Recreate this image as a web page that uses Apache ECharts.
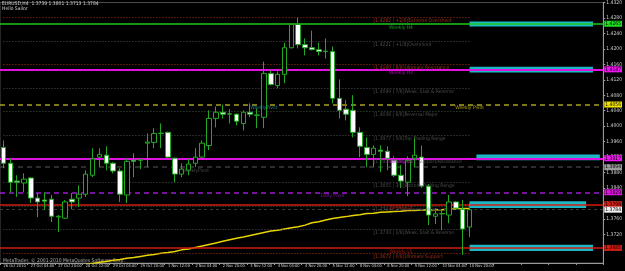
<!DOCTYPE html>
<html>
<head>
<meta charset="utf-8">
<script src="https://cdn.jsdelivr.net/npm/echarts@6/dist/echarts.min.js"></script>
<style>
html, body { margin: 0; padding: 0; background: #000; }
#main { width: 625px; height: 271px; }
</style>
</head>
<body>
<div id="main"></div>
<script>
// EURUSD H4 bars, 26 Oct 2010 12:00 .. 10 Nov 2010 20:00
const times = [
  '26 Oct 2010', '26 Oct 16:00', '26 Oct 20:00',
  '27 Oct 00:00', '27 Oct 04:00', '27 Oct 08:00', '27 Oct 12:00', '27 Oct 16:00', '27 Oct 20:00',
  '28 Oct 00:00', '28 Oct 04:00', '28 Oct 08:00', '28 Oct 12:00', '28 Oct 16:00', '28 Oct 20:00',
  '29 Oct 00:00', '29 Oct 04:00', '29 Oct 08:00', '29 Oct 12:00', '29 Oct 16:00', '29 Oct 20:00',
  '1 Nov 00:00', '1 Nov 04:00', '1 Nov 08:00', '1 Nov 12:00', '1 Nov 16:00', '1 Nov 20:00',
  '2 Nov 00:00', '2 Nov 04:00', '2 Nov 08:00', '2 Nov 12:00', '2 Nov 16:00', '2 Nov 20:00',
  '3 Nov 00:00', '3 Nov 04:00', '3 Nov 08:00', '3 Nov 12:00', '3 Nov 16:00', '3 Nov 20:00',
  '4 Nov 00:00', '4 Nov 04:00', '4 Nov 08:00', '4 Nov 12:00', '4 Nov 16:00', '4 Nov 20:00',
  '5 Nov 00:00', '5 Nov 04:00', '5 Nov 08:00', '5 Nov 12:00', '5 Nov 16:00', '5 Nov 20:00',
  '8 Nov 00:00', '8 Nov 04:00', '8 Nov 08:00', '8 Nov 12:00', '8 Nov 16:00', '8 Nov 20:00',
  '9 Nov 00:00', '9 Nov 04:00', '9 Nov 08:00', '9 Nov 12:00', '9 Nov 16:00', '9 Nov 20:00',
  '10 Nov 00:00', '10 Nov 04:00', '10 Nov 08:00', '10 Nov 12:00', '10 Nov 16:00', '10 Nov 20:00'
];
const futureSlots = 19;

// [open, close, low, high]
const ohlc = [
  [1.3945, 1.3904, 1.3891, 1.3963], [1.3904, 1.3855, 1.3829, 1.3917], [1.3858, 1.3855, 1.3817, 1.3873],
  [1.3853, 1.3863, 1.3829, 1.3878], [1.3866, 1.3814, 1.3801, 1.3868], [1.3814, 1.3804, 1.3765, 1.3827],
  [1.3809, 1.3806, 1.3783, 1.3829], [1.3811, 1.3767, 1.3752, 1.3822], [1.3765, 1.3767, 1.3726, 1.3770],
  [1.3762, 1.3804, 1.3760, 1.3809], [1.3811, 1.3804, 1.3785, 1.3827], [1.3814, 1.3824, 1.3791, 1.3847],
  [1.3824, 1.3876, 1.3817, 1.3886], [1.3873, 1.3915, 1.3868, 1.3943], [1.3920, 1.3927, 1.3894, 1.3943],
  [1.3925, 1.3904, 1.3886, 1.3948], [1.3904, 1.3884, 1.3878, 1.3907], [1.3884, 1.3824, 1.3804, 1.3891],
  [1.3822, 1.3909, 1.3801, 1.3915], [1.3912, 1.3909, 1.3868, 1.3930], [1.3912, 1.3913, 1.3889, 1.3915],
  [1.3956, 1.3959, 1.3894, 1.3981], [1.3958, 1.3981, 1.3943, 1.3995], [1.3981, 1.3982, 1.3943, 1.4007],
  [1.3984, 1.3920, 1.3918, 1.3986], [1.3917, 1.3876, 1.3855, 1.3919], [1.3876, 1.3889, 1.3868, 1.3904],
  [1.3886, 1.3902, 1.3873, 1.3915], [1.3904, 1.3920, 1.3894, 1.3943], [1.3920, 1.3956, 1.3917, 1.3963],
  [1.3950, 1.4020, 1.3938, 1.4041], [1.4020, 1.4036, 1.3997, 1.4051], [1.4036, 1.4031, 1.4020, 1.4056],
  [1.4031, 1.4032, 1.4007, 1.4044], [1.4031, 1.4013, 1.4002, 1.4033], [1.4007, 1.4036, 1.3989, 1.4041],
  [1.4036, 1.4031, 1.4023, 1.4059], [1.4028, 1.4029, 1.3995, 1.4046], [1.4023, 1.4136, 1.3995, 1.4167],
  [1.4136, 1.4108, 1.4105, 1.4144], [1.4105, 1.4134, 1.4098, 1.4142], [1.4134, 1.4203, 1.4111, 1.4216],
  [1.4203, 1.4263, 1.4201, 1.4265], [1.4263, 1.4211, 1.4201, 1.4281], [1.4211, 1.4203, 1.4183, 1.4227],
  [1.4203, 1.4198, 1.4196, 1.4247], [1.4198, 1.4193, 1.4183, 1.4216], [1.4193, 1.4194, 1.4175, 1.4227],
  [1.4193, 1.4072, 1.4059, 1.4206], [1.4072, 1.4041, 1.4020, 1.4121], [1.4044, 1.4031, 1.4015, 1.4067],
  [1.4041, 1.3984, 1.3971, 1.4080], [1.3984, 1.3948, 1.3920, 1.3997], [1.3945, 1.3927, 1.3894, 1.3971],
  [1.3927, 1.3943, 1.3894, 1.3950], [1.3938, 1.3935, 1.3881, 1.3950], [1.3935, 1.3917, 1.3886, 1.3948],
  [1.3912, 1.3873, 1.3868, 1.3922], [1.3873, 1.3858, 1.3840, 1.3899], [1.3855, 1.3912, 1.3819, 1.3922],
  [1.3917, 1.3925, 1.3894, 1.3971], [1.3920, 1.3845, 1.3840, 1.3950], [1.3845, 1.3770, 1.3744, 1.3850],
  [1.3767, 1.3773, 1.3747, 1.3788], [1.3773, 1.3774, 1.3731, 1.3785], [1.3770, 1.3804, 1.3749, 1.3822],
  [1.3804, 1.3788, 1.3785, 1.3806], [1.3785, 1.3734, 1.3667, 1.3809], [1.3739, 1.3784, 1.3713, 1.3801]
];

// yellow moving average (starts below the visible range)
const movingAvg = [
  null, null, null, null, null, null, null, null, null, null, null, null,
  1.3642, 1.3645, 1.3648, 1.3650, 1.3653, 1.3655, 1.3658, 1.3660, 1.3663, 1.3666,
  1.3668, 1.3671, 1.3673, 1.3676, 1.3680, 1.3682, 1.3686, 1.3690, 1.3694, 1.3698,
  1.3702, 1.3706, 1.3710, 1.3713, 1.3717, 1.3721, 1.3725, 1.3729, 1.3731, 1.3734,
  1.3737, 1.3740, 1.3744, 1.3750, 1.3753, 1.3757, 1.3761, 1.3764, 1.3766, 1.3769,
  1.3771, 1.3774, 1.3775, 1.3777, 1.3778, 1.3779, 1.3780, 1.3782, 1.3782, 1.3783,
  1.3783, 1.3784, 1.3784, 1.3786, 1.3786, 1.3787, 1.3787
];

// Murrey math levels
const murreyValues = [1.4282, 1.4221, 1.4160, 1.4099, 1.4038, 1.3977, 1.3916, 1.3855, 1.3794, 1.3733, 1.3672];
const murreySteps = ['+2/8', '+1/8', '8/8', '7/8', '6/8', '5/8', '4/8', '3/8', '2/8', '1/8', '0/8'];
const murreyTexts = ['Extreme Overshoot', 'Overshoot', 'Ultimate Resistance', 'Weak, Stall & Reverse',
  'Reversal Major', 'Top Trading Range', 'Major Support/Resistance', 'Bottom Trading Range',
  'Reversal Major', 'Weak, Stall & Reverse', 'Ultimate Support'];

// pivot lines
const pivotNames = ['Weekly H4', 'Weekly H3', 'Weekly Pivot', 'Weekly L3', 'Daily Pivot', 'Weekly L4', 'Weekly L5'];
const pivotValues = [1.4265, 1.4147, 1.4056, 1.3917, 1.3829, 1.3798, 1.3685];
const pivotLabelAt = [58, 58, 68, 58, 48, 58, 58];

// cyan zones to the right of the last bar
const zoneTop = [1.4271, 1.4154, 1.3927, 1.3806, 1.3693];
const zoneBottom = [1.4258, 1.4139, 1.3912, 1.3788, 1.3677];
const zoneStart = [68, 68, 69, 68, 68];
const zoneEnd = [86, 86, 87, 85, 86];

const prevPivot = 1.3894;
const bidPrice = 1.3784;
const priceTicks = [1.3680, 1.3720, 1.3760, 1.3800, 1.3840, 1.3880, 1.3920, 1.3960, 1.4000,
  1.4040, 1.4080, 1.4120, 1.4160, 1.4200, 1.4240, 1.4280, 1.4320];

const FONT = "'Liberation Sans Narrow', 'DejaVu Sans Condensed', sans-serif";
const GREEN = '#22a822';

const categories = times.concat(new Array(futureSlots).fill(''));

const pivotColors = ['#1ec81e', '#e012e0', '#a8a020', '#e012e0', '#9a1ad0', '#d01c12', '#d01c12'];
const pivotTagColors = ['#1ee01e', '#f014f0', '#f0e400', '#f014f0', '#e014e0', '#d01c12', '#d01c12'];
const pivotTextColors = ['#1ec81e', '#d810d8', '#d8c800', '#d810d8', '#9a1ad0', '#d01c12', '#d01c12'];
const pivotTypes = ['solid', 'solid', [5, 4], 'solid', [5, 4], 'solid', 'solid'];
const pivotWidths = [1.5, 2, 1.5, 2, 1.5, 1.5, 1.5];

function murreyColor(i) {
  if (i === 0 || i === 2 || i === 10) return '#a8301c';
  if (i === 4 || i === 8) return '#3f5a3f';
  if (i === 6) return '#d8d8d8';
  return '#4e4e4e';
}

function axisTag(v, bg) {
  return {
    show: true, position: 'end', distance: 1,
    formatter: v.toFixed(4), backgroundColor: bg, color: '#000',
    fontSize: 5, fontFamily: FONT, padding: [1, 1, 0, 1]
  };
}

const last = times.length - 1;

const murreyLines = murreyValues.map((v, i) => [
  { coord: [0, v], lineStyle: { color: murreyColor(i), type: [1, 2], width: 1 } },
  { coord: [last, v] }
]);

const pivotLines = pivotValues.map((v, i) => ({
  yAxis: v,
  lineStyle: { color: pivotColors[i], type: pivotTypes[i], width: pivotWidths[i] },
  label: axisTag(v, pivotTagColors[i])
}));
pivotLines.push({
  yAxis: prevPivot,
  lineStyle: { color: '#3c3c3c', type: [5, 4], width: 1.5 },
  label: axisTag(prevPivot, '#9a9a9a')
});
pivotLines.push({
  yAxis: bidPrice,
  lineStyle: { color: '#3a3a3a', type: [3, 3], width: 1 },
  label: axisTag(bidPrice, '#f0f0f0')
});

const zones = zoneTop.map((t, i) => [
  { coord: [zoneStart[i], t] },
  { coord: [zoneEnd[i], zoneBottom[i]] }
]);

const notes = [];
murreyValues.forEach((v, i) => {
  const red = (i === 0 || i === 2 || i === 10);
  notes.push({
    value: [54, v],
    label: {
      show: true, position: [0, 1], align: 'left', verticalAlign: 'top',
      formatter: '[' + v.toFixed(4) + ' | ' + murreySteps[i] + ']' + murreyTexts[i],
      color: red ? '#c03a20' : '#5e5e5e', fontSize: 5, fontFamily: FONT
    }
  });
});
pivotValues.forEach((v, i) => {
  notes.push({
    value: [pivotLabelAt[i], v],
    label: {
      show: true, position: 'bottom', distance: 1,
      formatter: pivotNames[i], color: pivotTextColors[i], fontSize: 5, fontFamily: FONT
    }
  });
});
notes.push({
  value: [38, pivotValues[2]],
  label: { show: true, position: 'bottom', distance: 1, formatter: 'WeeklyPivot', color: '#2a9aa8', fontSize: 5, fontFamily: FONT }
});
notes.push({
  value: [28, prevPivot],
  label: { show: true, position: 'bottom', distance: 1, formatter: 'WeeklyPivot', color: '#5a5a5a', fontSize: 5, fontFamily: FONT }
});

const chart = echarts.init(document.getElementById('main'), null, { renderer: 'canvas' });

chart.setOption({
  backgroundColor: '#000',
  animation: false,
  title: {
    text: 'EURUSD,H4  1.3739 1.3801 1.3713 1.3784',
    subtext: 'Hello Sailor',
    left: 2, top: 1, padding: 0, itemGap: 0,
    textStyle: { fontSize: 5, color: '#d0d0d0', fontWeight: 'normal', fontFamily: FONT },
    subtextStyle: { fontSize: 5, color: '#d0d0d0', fontFamily: FONT }
  },
  graphic: [{
    type: 'text', left: 3, bottom: 8,
    style: { text: 'MetaTrader, \u00a9 2001-2010 MetaQuotes Software Corp.', fill: '#b0b0b0', fontSize: 5, fontFamily: FONT }
  }],
  grid: {
    left: 0, right: 17, top: 2, bottom: 8,
    show: true, borderColor: '#4a4a4a', borderWidth: 1, backgroundColor: 'transparent'
  },
  xAxis: {
    type: 'category',
    data: categories,
    boundaryGap: true,
    axisLine: { lineStyle: { color: '#9a9a9a' } },
    axisTick: { show: true, interval: 3, length: 2, lineStyle: { color: '#9a9a9a' } },
    axisLabel: {
      interval: 3, align: 'left', margin: 1, color: '#cfcfcf',
      fontSize: 4, fontFamily: FONT, showMaxLabel: false, hideOverlap: false
    },
    splitLine: { show: false }
  },
  yAxis: {
    type: 'value',
    position: 'right',
    min: 1.3646,
    max: 1.4320,
    axisLine: { show: true, lineStyle: { color: '#9a9a9a' } },
    axisTick: { show: true, length: 2, customValues: priceTicks, lineStyle: { color: '#9a9a9a' } },
    axisLabel: {
      customValues: priceTicks, margin: 3, color: '#cfcfcf', fontSize: 5, fontFamily: FONT,
      formatter: v => v.toFixed(4)
    },
    splitLine: { show: false }
  },
  series: [
    {
      name: 'zones',
      type: 'line',
      data: [],
      silent: true,
      markArea: {
        silent: true,
        itemStyle: { color: '#1cb6c4' },
        data: zones
      }
    },
    {
      name: 'murrey',
      type: 'line',
      data: [],
      silent: true,
      markLine: {
        silent: true, symbol: 'none', precision: 4, label: { show: false },
        data: murreyLines
      }
    },
    {
      name: 'pivots',
      type: 'line',
      data: [],
      silent: true,
      z: 3,
      markLine: {
        silent: true, symbol: 'none', precision: 4,
        data: pivotLines
      }
    },
    {
      name: 'MA',
      type: 'line',
      data: movingAvg,
      showSymbol: false,
      smooth: false,
      z: 4,
      lineStyle: { color: '#e8d400', width: 1.5 }
    },
    {
      name: 'EURUSD',
      type: 'candlestick',
      data: ohlc,
      barWidth: 5,
      z: 5,
      itemStyle: {
        color: '#000000',
        color0: '#ffffff',
        borderColor: GREEN,
        borderColor0: GREEN,
        borderWidth: 1
      }
    },
    {
      name: 'notes',
      type: 'scatter',
      symbolSize: 0,
      silent: true,
      z: 6,
      data: notes
    }
  ]
});
</script>
</body>
</html>
